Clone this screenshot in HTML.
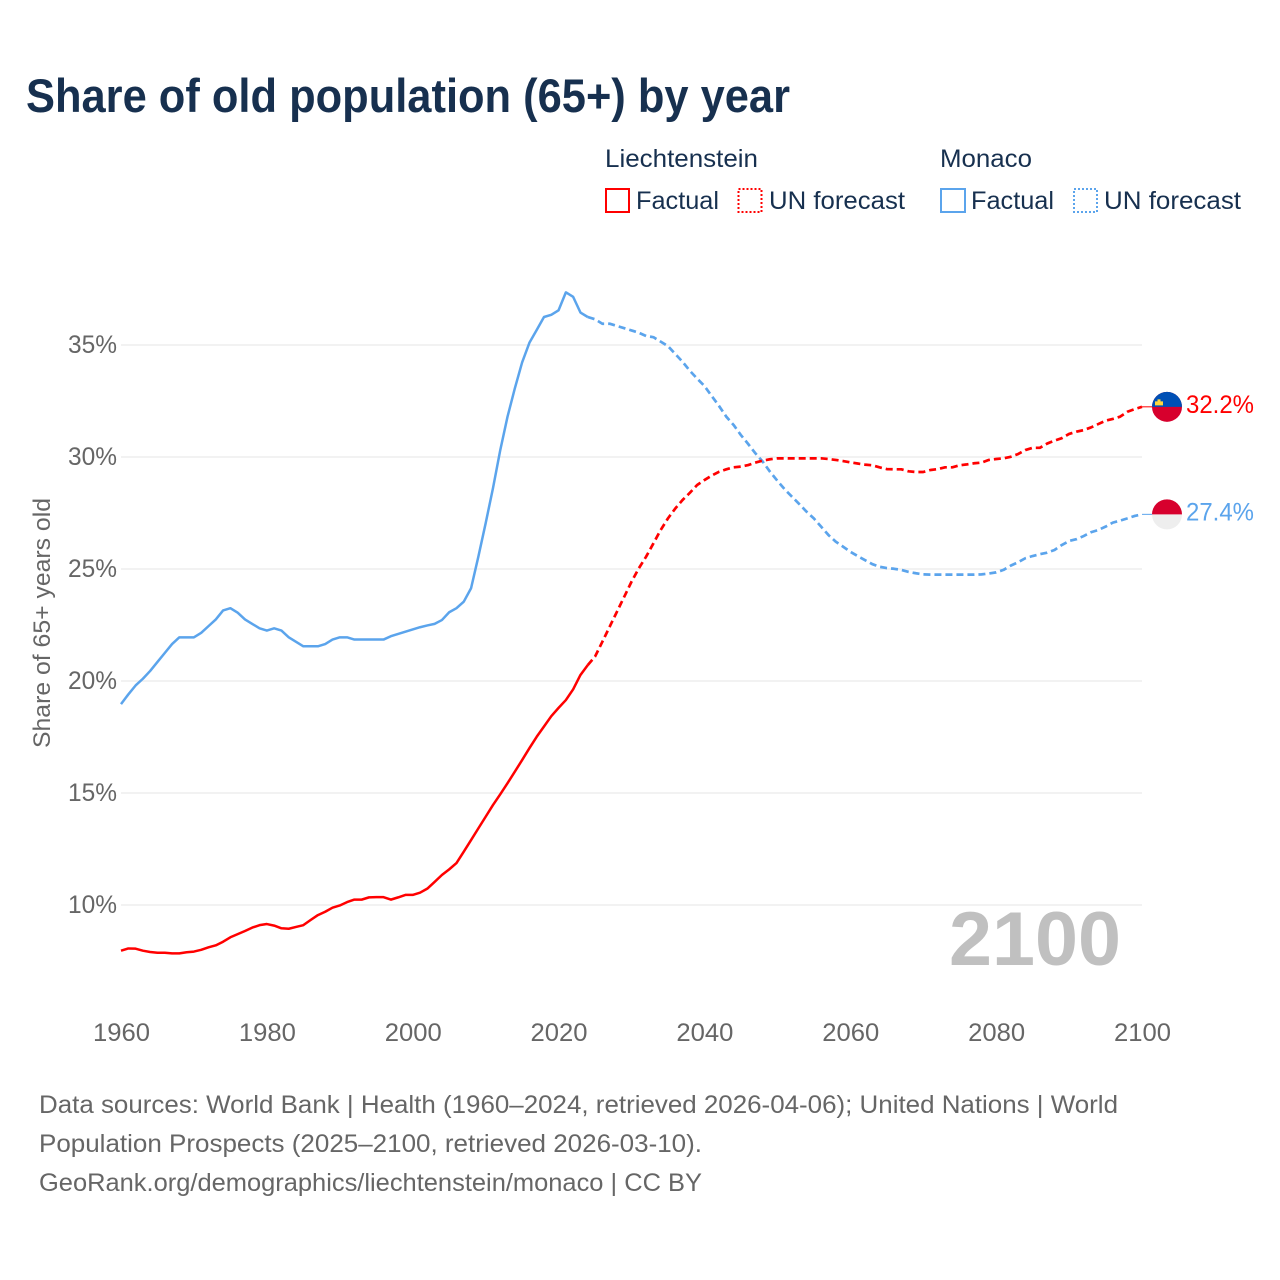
<!DOCTYPE html>
<html lang="en">
<head>
<meta charset="utf-8">
<title>Share of old population (65+) by year</title>
<style>
html,body{margin:0;padding:0;background:#fff;}
svg{display:block;font-family:"Liberation Sans",sans-serif;}
</style>
</head>
<body>
<svg id="chart" xmlns="http://www.w3.org/2000/svg" width="1280" height="1280" viewBox="0 0 1280 1280">
  <rect x="0" y="0" width="1280" height="1280" fill="#ffffff"/>
  <text x="26" y="112" font-size="47" font-weight="700" fill="#17304f" textLength="764" lengthAdjust="spacingAndGlyphs">Share of old population (65+) by year</text>

  <g font-size="25" fill="#17304f">
    <text x="605" y="167" textLength="153" lengthAdjust="spacingAndGlyphs">Liechtenstein</text>
    <rect x="606" y="189" width="23" height="23" fill="none" stroke="#ff0000" stroke-width="2"/>
    <text x="636" y="209" textLength="83" lengthAdjust="spacingAndGlyphs">Factual</text>
    <rect x="738.5" y="189" width="23" height="23" fill="none" stroke="#ff0000" stroke-width="2" stroke-dasharray="2 2"/>
    <text x="769" y="209" textLength="136" lengthAdjust="spacingAndGlyphs">UN forecast</text>
    <text x="940" y="167" textLength="92" lengthAdjust="spacingAndGlyphs">Monaco</text>
    <rect x="941" y="189" width="24" height="23" fill="none" stroke="#5ba4ec" stroke-width="2"/>
    <text x="971" y="209" textLength="83" lengthAdjust="spacingAndGlyphs">Factual</text>
    <rect x="1074" y="189" width="23" height="23" fill="none" stroke="#5ba4ec" stroke-width="2" stroke-dasharray="2 2"/>
    <text x="1104" y="209" textLength="137" lengthAdjust="spacingAndGlyphs">UN forecast</text>
  </g>

  <text transform="translate(50,623) rotate(-90)" text-anchor="middle" font-size="24" fill="#666666" textLength="250" lengthAdjust="spacingAndGlyphs">Share of 65+ years old</text>

  <g id="grid"></g>
  <g id="xlabels"></g>
  <g id="ylabels"></g>

  <text x="949" y="965" font-size="76" font-weight="700" fill="#c0c0c0" textLength="172" lengthAdjust="spacingAndGlyphs">2100</text>

  <g id="series"></g>
  <g id="ends"></g>

  <g font-size="25" fill="#666666">
    <text x="39" y="1113" textLength="1079" lengthAdjust="spacingAndGlyphs">Data sources: World Bank | Health (1960–2024, retrieved 2026-04-06); United Nations | World</text>
    <text x="39" y="1152" textLength="663" lengthAdjust="spacingAndGlyphs">Population Prospects (2025–2100, retrieved 2026-03-10).</text>
    <text x="39" y="1191" textLength="663" lengthAdjust="spacingAndGlyphs">GeoRank.org/demographics/liechtenstein/monaco | CC BY</text>
  </g>
</svg>

<script>
const xTickLabels = [1960, 1980, 2000, 2020, 2040, 2060, 2080, 2100];
const yTickLabels = [10, 15, 20, 25, 30, 35];

const factualYears = [1960,1961,1962,1963,1964,1965,1966,1967,1968,1969,1970,1971,1972,1973,1974,1975,1976,1977,1978,1979,1980,1981,1982,1983,1984,1985,1986,1987,1988,1989,1990,1991,1992,1993,1994,1995,1996,1997,1998,1999,2000,2001,2002,2003,2004,2005,2006,2007,2008,2009,2010,2011,2012,2013,2014,2015,2016,2017,2018,2019,2020,2021,2022,2023,2024];

const forecastYears = [2024,2025,2026,2027,2028,2029,2030,2031,2032,2033,2034,2035,2036,2037,2038,2039,2040,2041,2042,2043,2044,2045,2046,2047,2048,2049,2050,2051,2052,2053,2054,2055,2056,2057,2058,2059,2060,2061,2062,2063,2064,2065,2066,2067,2068,2069,2070,2071,2072,2073,2074,2075,2076,2077,2078,2079,2080,2081,2082,2083,2084,2085,2086,2087,2088,2089,2090,2091,2092,2093,2094,2095,2096,2097,2098,2099,2100];

const liechtensteinFactual = [7.96,8.06,8.05,7.96,7.9,7.87,7.87,7.84,7.84,7.89,7.92,8.0,8.11,8.2,8.36,8.56,8.7,8.84,8.99,9.1,9.15,9.08,8.96,8.94,9.02,9.1,9.33,9.55,9.7,9.88,9.98,10.13,10.24,10.24,10.34,10.35,10.35,10.24,10.34,10.45,10.45,10.55,10.73,11.03,11.34,11.59,11.87,12.38,12.9,13.42,13.94,14.46,14.94,15.44,15.95,16.47,17.0,17.51,17.97,18.43,18.8,19.15,19.63,20.27,20.71];

const liechtensteinForecast = [20.71,21.09,21.75,22.42,23.09,23.76,24.43,25.03,25.55,26.14,26.74,27.26,27.7,28.08,28.4,28.75,28.97,29.17,29.34,29.45,29.54,29.57,29.64,29.75,29.84,29.9,29.94,29.94,29.94,29.94,29.94,29.94,29.94,29.91,29.87,29.82,29.76,29.71,29.66,29.63,29.54,29.46,29.45,29.45,29.36,29.33,29.33,29.42,29.46,29.54,29.54,29.63,29.67,29.72,29.75,29.87,29.91,29.94,30.01,30.13,30.31,30.41,30.41,30.6,30.73,30.84,31.03,31.13,31.2,31.32,31.47,31.62,31.7,31.8,32.02,32.14,32.24];

const monacoFactual = [18.97,19.4,19.8,20.1,20.45,20.85,21.25,21.65,21.95,21.95,21.95,22.15,22.45,22.75,23.15,23.25,23.05,22.75,22.55,22.35,22.25,22.35,22.25,21.95,21.75,21.55,21.55,21.55,21.65,21.85,21.95,21.95,21.85,21.85,21.85,21.85,21.85,22.0,22.1,22.2,22.3,22.4,22.48,22.55,22.72,23.07,23.25,23.54,24.14,25.55,27.04,28.6,30.3,31.8,33.06,34.22,35.1,35.67,36.25,36.35,36.55,37.35,37.15,36.45,36.25];

const monacoForecast = [36.25,36.15,35.95,35.95,35.85,35.75,35.65,35.55,35.4,35.35,35.15,34.95,34.6,34.25,33.85,33.5,33.17,32.72,32.28,31.8,31.43,30.98,30.58,30.16,29.79,29.34,28.94,28.56,28.23,27.9,27.56,27.26,26.89,26.52,26.22,26.0,25.77,25.58,25.4,25.22,25.1,25.04,25.01,24.96,24.87,24.81,24.76,24.75,24.75,24.75,24.75,24.75,24.75,24.75,24.76,24.8,24.85,24.96,25.15,25.3,25.48,25.58,25.66,25.73,25.85,26.07,26.25,26.33,26.47,26.64,26.74,26.89,27.07,27.16,27.26,27.37,27.44];

const SVG_NS = 'http://www.w3.org/2000/svg';
const RED = '#ff0000';
const BLUE = '#5ba4ec';

function xScale(year) {
  return 121 + (year - 1960) * (1142 - 121) / 140;
}
function yScale(value) {
  return 905 - (value - 10) * 22.4;
}
function make(tag, attrs, parent) {
  const el = document.createElementNS(SVG_NS, tag);
  for (const key in attrs) el.setAttribute(key, attrs[key]);
  parent.appendChild(el);
  return el;
}
function linePath(years, values) {
  return years.map(function (y, i) {
    return (i ? 'L' : 'M') + xScale(y).toFixed(2) + ' ' + yScale(values[i]).toFixed(2);
  }).join('');
}

const gridGroup = document.getElementById('grid');
const xLabelGroup = document.getElementById('xlabels');
const yLabelGroup = document.getElementById('ylabels');
const seriesGroup = document.getElementById('series');
const endGroup = document.getElementById('ends');

yTickLabels.forEach(function (tick) {
  const line = make('line', {x1: xScale(1960), x2: xScale(2100), y1: yScale(tick), y2: yScale(tick), stroke: '#eeeeee', 'stroke-width': 1.5}, gridGroup);
  
  
  const label = make('text', {x: 117, y: yScale(tick) + 8, 'text-anchor': 'end', 'font-size': 25, fill: '#666666', textLength: 49, lengthAdjust: 'spacingAndGlyphs'}, yLabelGroup);
  label.textContent = tick + '%';
  
  
});

xTickLabels.forEach(function (tick) {
  const label = make('text', {x: xScale(tick) + 0.5, y: 1041, 'text-anchor': 'middle', 'font-size': 25, fill: '#666666', textLength: 57, lengthAdjust: 'spacingAndGlyphs'}, xLabelGroup);
  label.textContent = String(tick);
  
  
});

function drawSeries(slug, color, factual, forecast) {
  const solid = make('path', {d: linePath(factualYears, factual), fill: 'none', stroke: color, 'stroke-width': 2.5, 'stroke-linejoin': 'round'}, seriesGroup);
  
  
  const dashed = make('path', {d: linePath(forecastYears, forecast), fill: 'none', stroke: color, 'stroke-width': 2.7, 'stroke-dasharray': '7 4', 'stroke-linejoin': 'round'}, seriesGroup);
  
  
}

function drawEnd(slug, color, forecast, topColor, bottomColor) {
  const last = forecast[forecast.length - 1];
  const ex = xScale(2100);
  const ey = yScale(last);
  const cx = 1167;
  const leader = make('line', {x1: ex, x2: cx - 14, y1: ey, y2: ey, stroke: color, 'stroke-width': 1}, endGroup);
  
  

  const flag = make('g', {}, endGroup);
  
  
  const r = 15;
  make('circle', {cx: cx, cy: ey, r: r, fill: bottomColor}, flag);
  make('path', {d: 'M' + (cx - r) + ' ' + ey + 'A' + r + ' ' + r + ' 0 0 1 ' + (cx + r) + ' ' + ey + 'Z', fill: topColor}, flag);
  if (slug === 'liechtenstein') {
    const crown = make('path', {d: 'M' + (cx - 12) + ' ' + (ey - 1.5) + 'v-4h2.5v-2h3v2h2.5v4z', fill: '#ffd83d'}, flag);
    
    
  }

  const label = make('text', {x: 1186, y: ey + 6, 'font-size': 25, fill: color, textLength: 68, lengthAdjust: 'spacingAndGlyphs'}, endGroup);
  label.textContent = last.toFixed(1) + '%';
  
  
}

drawSeries('monaco', BLUE, monacoFactual, monacoForecast);
drawSeries('liechtenstein', RED, liechtensteinFactual, liechtensteinForecast);
drawEnd('liechtenstein', RED, liechtensteinForecast, '#0050b5', '#d7002d');
drawEnd('monaco', BLUE, monacoForecast, '#d7002d', '#eeeeee');
</script>
</body>
</html>
